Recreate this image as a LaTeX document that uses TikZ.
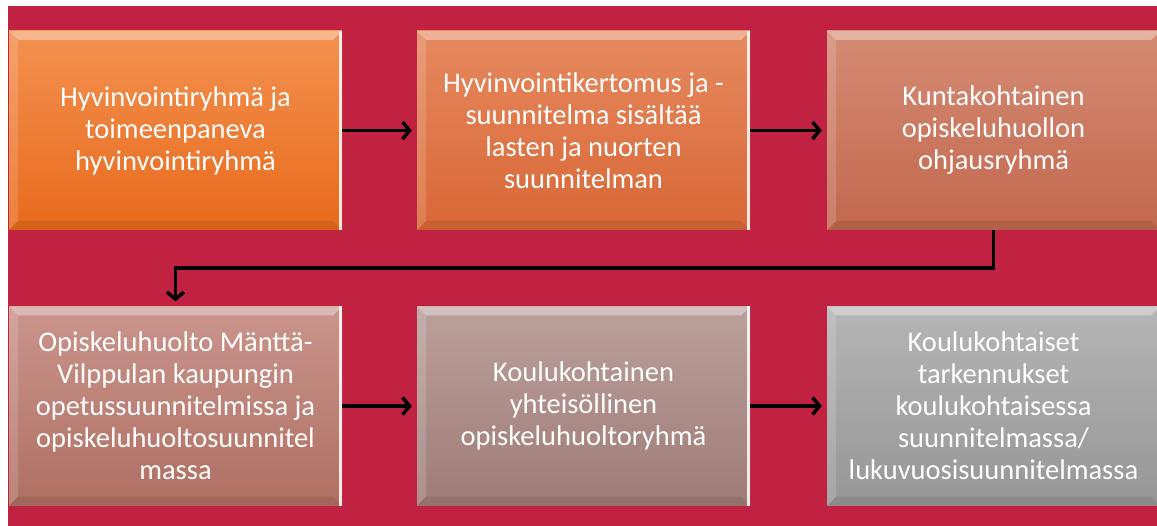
\documentclass[tikz,border=0pt]{standalone}
\usepackage{fontspec}
\setmainfont{Carlito}
\usetikzlibrary{calc, positioning, arrows.meta}
\definecolor{pohja}{HTML}{C22242}
\tikzset{
  vaihe/.style={rectangle, minimum width=333pt, minimum height=199pt, align=center,
    text=white, font=\fontsize{28.5}{32}\selectfont, inner sep=0pt,
    path picture={
      \fill[white,opacity=.35] (path picture bounding box.north west) -- (path picture bounding box.north east)
        -- ([xshift=-9pt,yshift=-9pt]path picture bounding box.north east) -- ([xshift=9pt,yshift=-9pt]path picture bounding box.north west) -- cycle;
      \fill[white,opacity=.15] (path picture bounding box.north west) -- ([xshift=9pt,yshift=-9pt]path picture bounding box.north west)
        -- ([xshift=9pt,yshift=9pt]path picture bounding box.south west) -- (path picture bounding box.south west) -- cycle;
      \fill[black,opacity=.08] (path picture bounding box.south west) -- ([xshift=9pt,yshift=9pt]path picture bounding box.south west)
        -- ([xshift=-9pt,yshift=9pt]path picture bounding box.south east) -- (path picture bounding box.south east) -- cycle;
      \fill[white,opacity=.85] ([xshift=-3pt]path picture bounding box.north east) rectangle (path picture bounding box.south east);
    }},
  nuoli/.style={-{Straight Barb[length=7pt,width=17pt]}, line width=3.5pt, black, shorten >=5pt}
}

\begin{document}
\begin{tikzpicture}[x=1pt,y=-1pt]
			\useasboundingbox (0,0) rectangle (1157,526);
			\fill[pohja] (8,6) rectangle (1157,526);

			\node[vaihe,top color={rgb,255:red,243;green,145;blue,80},bottom color={rgb,255:red,232;green,106;blue,28}] (hyvinvointi) at (175.5,130.5) {Hyvinvointiryhmä ja\\ toimeenpaneva\\ hyvinvointiryhmä};
			\node[vaihe,top color={rgb,255:red,230;green,137;blue,95},bottom color={rgb,255:red,216;green,103;blue,54}] (kertomus) at (583.5,130.5) {Hyvinvointikertomus ja -\\ suunnitelma sisältää\\ lasten ja nuorten\\ suunnitelman};
			\node[vaihe,top color={rgb,255:red,213;green,139;blue,116},bottom color={rgb,255:red,194;green,104;blue,78}] (ohjaus) at (993.5,130.5) {Kuntakohtainen\\ opiskeluhuollon\\ ohjausryhmä};
			\node[vaihe,top color={rgb,255:red,202;green,149;blue,140},bottom color={rgb,255:red,175;green,111;blue,99}] (opiskeluhuolto) at (175.5,406) {Opiskeluhuolto Mänttä-\\ Vilppulan kaupungin\\ opetussuunnitelmissa ja\\ opiskeluhuoltosuunnitel\\ massa};
			\node[vaihe,top color={rgb,255:red,186;green,160;blue,156},bottom color={rgb,255:red,160;green,123;blue,119}] (yhteisollinen) at (583.5,406) {Koulukohtainen\\ yhteisöllinen\\ opiskeluhuoltoryhmä};
			\node[vaihe,top color={rgb,255:red,181;green,181;blue,181},bottom color={rgb,255:red,150;green,150;blue,150}] (koulukohtaiset) at (993.5,406) {Koulukohtaiset\\ tarkennukset\\ koulukohtaisessa\\ suunnitelmassa/\\ lukuvuosisuunnitelmassa};

			\path[nuoli]
			(hyvinvointi) edge (kertomus)
			(kertomus) edge (ohjaus)
			(opiskeluhuolto) edge (yhteisollinen)
			(yhteisollinen) edge (koulukohtaiset)
			;
			\draw[nuoli] (ohjaus.south) -- ++(0,38) -| (opiskeluhuolto.north);
		\end{tikzpicture}
\end{document}
